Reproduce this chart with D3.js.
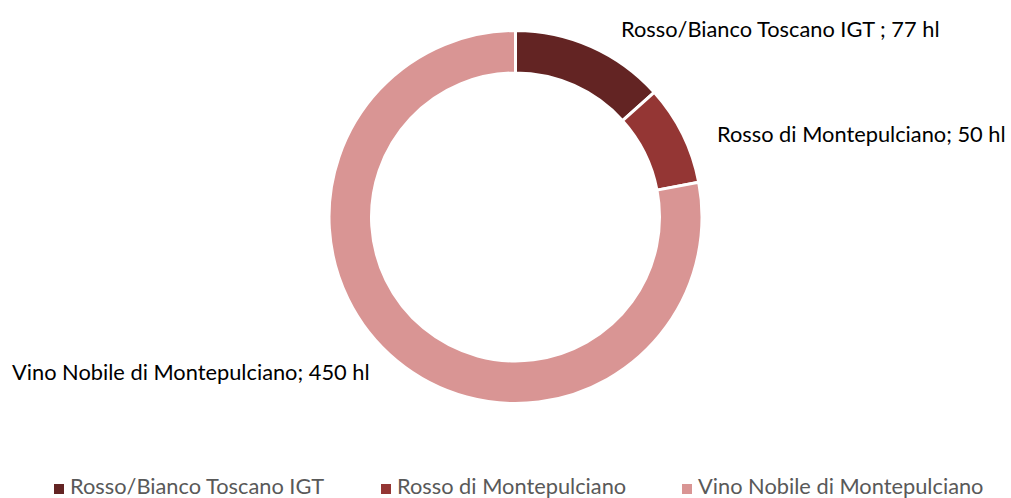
<!DOCTYPE html>
<html>
<head>
<meta charset="utf-8">
<script src="https://cdn.jsdelivr.net/npm/d3@7"></script>
<style>
  body { margin: 0; background: #fff; }
  svg { display: block; font-family: Lato, Calibri, sans-serif; }
</style>
</head>
<body>
<svg id="chart"></svg>
<script>
const categories = ['Rosso/Bianco Toscano IGT', 'Rosso di Montepulciano', 'Vino Nobile di Montepulciano'];
const values = [77, 50, 450];
const labels = ['Rosso/Bianco Toscano IGT ; 77 hl', 'Rosso di Montepulciano; 50 hl', 'Vino Nobile di Montepulciano; 450 hl'];
const colors = ['#632423', '#943634', '#d99594'];

const width = 1011,
  height = 498,
  cx = 515.5,
  cy = 217,
  outer = 186.5,
  inner = 144;

const svg = d3.select('#chart').attr('width', width).attr('height', height);

const data = categories.map((c, i) => ({ name: c, value: values[i], label: labels[i] }));

const color = d3.scaleOrdinal().domain(categories).range(colors);

const pie = d3.pie().sort(null).value((d) => d.value);
const arc = d3.arc().outerRadius(outer).innerRadius(inner);

const g = svg.append('g').attr('transform', 'translate(' + cx + ',' + cy + ')');

g.selectAll('path.slice')
  .data(pie(data))
  .enter()
  .append('path')
  .attr('class', 'slice')
  .attr('d', arc)
  .style('fill', (d) => color(d.data.name))
  .style('stroke', '#fff')
  .style('stroke-width', 3);

// data labels, placed outside the ring like the original
const labelPos = [[621, 37], [717, 142], [12, 380]];
svg.selectAll('text.label')
  .data(data)
  .enter()
  .append('text')
  .attr('class', 'label')
  .attr('x', (d, i) => labelPos[i][0])
  .attr('y', (d, i) => labelPos[i][1])
  .style('font-size', '21.8px')
  .style('fill', '#000')
  .text((d) => d.label);

// legend
const legendX = [54, 381, 682];
const legend = svg.selectAll('g.legend')
  .data(data)
  .enter()
  .append('g')
  .attr('class', 'legend')
  .attr('transform', (d, i) => 'translate(' + legendX[i] + ',494)');

legend.append('rect')
  .attr('x', 0)
  .attr('y', -10)
  .attr('width', 10)
  .attr('height', 10)
  .style('fill', (d) => color(d.name));

legend.append('text')
  .attr('x', 16)
  .attr('y', 0)
  .style('font-size', '21.8px')
  .style('fill', '#595959')
  .text((d) => d.name);
</script>
</body>
</html>
